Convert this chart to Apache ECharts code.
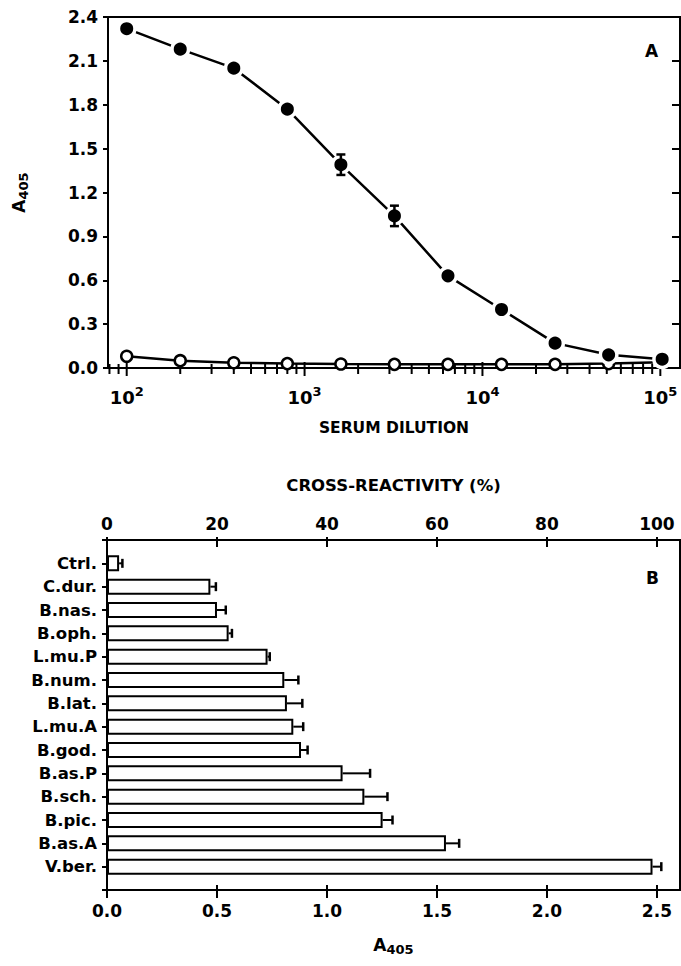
<!DOCTYPE html>
<html><head><meta charset="utf-8">
<script src="https://cdn.jsdelivr.net/npm/echarts@6/dist/echarts.min.js"></script>
<style>html,body{margin:0;padding:0;background:#fff}#c{width:681px;height:966px}</style>
</head><body><div id="c"></div>
<script>
// ---------- Panel A data ----------
const dilutions   = [100, 200, 400, 800, 1600, 3200, 6400, 12800, 25600, 51200, 102400];
const immuneA405  = [2.32, 2.18, 2.05, 1.77, 1.39, 1.04, 0.63, 0.40, 0.17, 0.09, 0.06];
const immuneErr   = [0, 0, 0, 0, 0.07, 0.07, 0, 0, 0, 0, 0];
const controlA405 = [0.08, 0.05, 0.036, 0.03, 0.027, 0.025, 0.025, 0.025, 0.025, 0.03, 0.04];
const panelAYTicks = ['0.0','0.3','0.6','0.9','1.2','1.5','1.8','2.1','2.4'];
const logDecades = [10, 100, 1000, 10000, 100000];
const logMultipliers = [1, 2, 3, 4, 5, 6, 7, 8, 9];

// ---------- Panel B data ----------
const species     = ['Ctrl.','C.dur.','B.nas.','B.oph.','L.mu.P','B.num.','B.lat.','L.mu.A','B.god.','B.as.P','B.sch.','B.pic.','B.as.A','V.ber.'];
const speciesA405 = [0.055, 0.47, 0.50, 0.553, 0.73, 0.806, 0.818, 0.847, 0.882, 1.071, 1.17, 1.253, 1.541, 2.48];
const speciesErr  = [0.015, 0.025, 0.04, 0.015, 0.01, 0.064, 0.07, 0.045, 0.03, 0.125, 0.105, 0.045, 0.06, 0.04];
const a405Ticks   = ['0.0','0.5','1.0','1.5','2.0','2.5'];
const crossTicks  = ['0','20','40','60','80','100'];

const FF = 'DejaVu Sans';
const K = '#000';
const xMinA = 78.5, xMaxA = 129000;
const bMax = 2.605;

const minorTicks = [];
logDecades.forEach(d => logMultipliers.forEach(m => { const v = d * m; if (v > xMinA && v < xMaxA) minorTicks.push(v); }));

const catAxisData = [''].concat(species, ['']);
const barData = [null].concat(speciesA405, [null]);

const lbl = (size) => ({ color: K, fontFamily: FF, fontWeight: 'bold', fontSize: size });
const a405Rich = {
  a: Object.assign(lbl(17), { verticalAlign: 'middle' }),
  s: Object.assign(lbl(13), { verticalAlign: 'middle', padding: [9, 0, 0, 0] })
};

const chart = echarts.init(document.getElementById('c'), null, { renderer: 'svg' });
chart.setOption({
  animation: false,
  backgroundColor: '#fff',
  grid: [
    { left: 108, right: 1, top: 17, height: 351, show: true, borderColor: K, borderWidth: 2, outerBoundsMode: 'none', containLabel: false },
    { left: 107, right: 1, top: 540, height: 350, show: true, borderColor: K, borderWidth: 2, outerBoundsMode: 'none', containLabel: false }
  ],
  xAxis: [
    { gridIndex: 0, type: 'log', logBase: 10, min: xMinA, max: xMaxA, position: 'bottom',
      axisLine: { lineStyle: { color: K, width: 2 } }, axisTick: { show: false }, splitLine: { show: false },
      axisLabel: { margin: 14, showMinLabel: false, showMaxLabel: false,
        formatter: v => { const p = Math.log10(v); return Math.abs(p - Math.round(p)) < 1e-6 ? '{b|10}{p|' + Math.round(p) + '}' : ''; },
        rich: { b: Object.assign(lbl(18), { padding: [6, 0, 0, 0] }), p: Object.assign(lbl(13), { padding: [0, 0, 6, 0] }) } },
      name: 'SERUM DILUTION', nameLocation: 'middle', nameGap: 52, nameTextStyle: lbl(15.5) },
    { gridIndex: 1, type: 'value', min: 0, max: bMax, interval: 0.5, position: 'bottom',
      axisLine: { lineStyle: { color: K, width: 2 } }, axisTick: { show: true, length: 8, lineStyle: { color: K, width: 2 } },
      splitLine: { show: false },
      axisLabel: Object.assign(lbl(17), { margin: 12, showMaxLabel: false, formatter: v => a405Ticks[Math.round(v / 0.5)] || '' }),
      name: '{a|A}{s|405}', nameLocation: 'middle', nameGap: 44, nameTextStyle: { rich: a405Rich } },
    { gridIndex: 1, type: 'value', min: 0, max: bMax, interval: 0.5, position: 'bottom',
      axisLine: { show: false }, axisTick: { show: true, inside: true, length: 5, lineStyle: { color: K, width: 2 } },
      axisLabel: { show: false }, splitLine: { show: false } },
    { gridIndex: 1, type: 'value', min: 0, max: bMax / 2.5 * 100, interval: 20, position: 'top',
      axisLine: { lineStyle: { color: K, width: 2 } }, axisTick: { show: true, length: 3, lineStyle: { color: K, width: 2 } },
      splitLine: { show: false },
      axisLabel: Object.assign(lbl(17), { margin: 8, showMaxLabel: false, formatter: v => crossTicks[Math.round(v / 20)] || '' }),
      name: 'CROSS-REACTIVITY (%)', nameLocation: 'middle', nameGap: 46, nameTextStyle: lbl(16.5) },
    { gridIndex: 1, type: 'value', min: 0, max: bMax / 2.5 * 100, interval: 20, position: 'top',
      axisLine: { show: false }, axisTick: { show: true, inside: true, length: 7, lineStyle: { color: K, width: 2 } },
      axisLabel: { show: false }, splitLine: { show: false } }
  ],
  yAxis: [
    { gridIndex: 0, type: 'value', min: 0, max: 2.4, interval: 0.3,
      axisLine: { lineStyle: { color: K, width: 2 } }, axisTick: { show: true, length: 5, lineStyle: { color: K, width: 2 } },
      splitLine: { show: false },
      axisLabel: Object.assign(lbl(17), { margin: 10, formatter: v => panelAYTicks[Math.round(v / 0.3)] }),
      name: '{a|A}{s|405}', nameLocation: 'middle', nameGap: 78, nameTextStyle: { rich: a405Rich } },
    { gridIndex: 0, type: 'value', min: 0, max: 2.4, interval: 0.3,
      axisLine: { show: false }, axisTick: { show: true, inside: true, length: 8, lineStyle: { color: K, width: 2 } },
      axisLabel: { show: false }, splitLine: { show: false } },
    { gridIndex: 1, type: 'category', data: catAxisData, inverse: true, boundaryGap: false,
      axisLine: { lineStyle: { color: K, width: 2 } }, axisTick: { show: true, length: 5, interval: 0, lineStyle: { color: K, width: 2 } },
      axisLabel: Object.assign(lbl(16.5), { margin: 10, interval: 0 }), splitLine: { show: false } }
  ],
  graphic: [
    { type: 'text', x: 645, y: 42, style: { text: 'A', fontFamily: FF, fontWeight: 'bold', fontSize: 17, fill: K } },
    { type: 'text', x: 646, y: 569, style: { text: 'B', fontFamily: FF, fontWeight: 'bold', fontSize: 17, fill: K } }
  ],
  series: [
    { type: 'custom', xAxisIndex: 0, yAxisIndex: 0, data: minorTicks, encode: { x: 0 }, silent: true, z: 3,
      renderItem: (params, api) => {
        const v = api.value(0); const p = api.coord([v, 0]);
        const lg = Math.log10(v); const major = Math.abs(lg - Math.round(lg)) < 1e-6;
        return { type: 'line', shape: { x1: p[0], y1: p[1] - (major ? 6 : 4), x2: p[0], y2: p[1] + (major ? 8 : 6) }, style: { stroke: K, lineWidth: 2 } };
      } },
    { type: 'line', xAxisIndex: 0, yAxisIndex: 0, data: dilutions.map((d, i) => [d, controlA405[i]]),
      symbol: 'circle', symbolSize: 11, itemStyle: { color: '#fff', borderColor: K, borderWidth: 2.5 },
      lineStyle: { color: K, width: 2.5 }, z: 4 },
    { type: 'line', xAxisIndex: 0, yAxisIndex: 0, data: dilutions.map((d, i) => [d, immuneA405[i]]),
      symbol: 'circle', symbolSize: 16.5, itemStyle: { color: K, borderColor: '#fff', borderWidth: 3.5 },
      lineStyle: { color: K, width: 2.5 }, z: 5 },
    { type: 'custom', xAxisIndex: 0, yAxisIndex: 0, data: dilutions.map((d, i) => [d, immuneA405[i], immuneErr[i]]), z: 6, silent: true,
      renderItem: (params, api) => {
        const x = api.value(0), y = api.value(1), e = api.value(2);
        if (!e) return null;
        const t = api.coord([x, y + e]), b = api.coord([x, y - e]);
        const st = { stroke: K, lineWidth: 2.5 };
        return { type: 'group', children: [
          { type: 'line', shape: { x1: t[0], y1: t[1], x2: b[0], y2: b[1] }, style: st },
          { type: 'line', shape: { x1: t[0] - 4.5, y1: t[1], x2: t[0] + 4.5, y2: t[1] }, style: st },
          { type: 'line', shape: { x1: b[0] - 4.5, y1: b[1], x2: b[0] + 4.5, y2: b[1] }, style: st }
        ] };
      } },
    { type: 'bar', xAxisIndex: 1, yAxisIndex: 2, data: barData, barWidth: 16,
      itemStyle: { color: '#fff', borderColor: K, borderWidth: 2 }, z: 3 },
    { type: 'custom', xAxisIndex: 1, yAxisIndex: 2, data: species.map((s, i) => [speciesA405[i], i + 1, speciesErr[i]]), z: 4, silent: true,
      encode: { x: 0, y: 1 },
      renderItem: (params, api) => {
        const v = api.value(0), c = api.value(1), e = api.value(2);
        const a = api.coord([v, c]), b = api.coord([v + e, c]);
        const st = { stroke: K, lineWidth: 2 };
        return { type: 'group', children: [
          { type: 'line', shape: { x1: a[0], y1: a[1], x2: b[0], y2: b[1] }, style: st },
          { type: 'line', shape: { x1: b[0], y1: b[1] - 4.5, x2: b[0], y2: b[1] + 4.5 }, style: Object.assign({}, st, { lineWidth: 2.5 }) }
        ] };
      } }
  ]
});
</script></body></html>
